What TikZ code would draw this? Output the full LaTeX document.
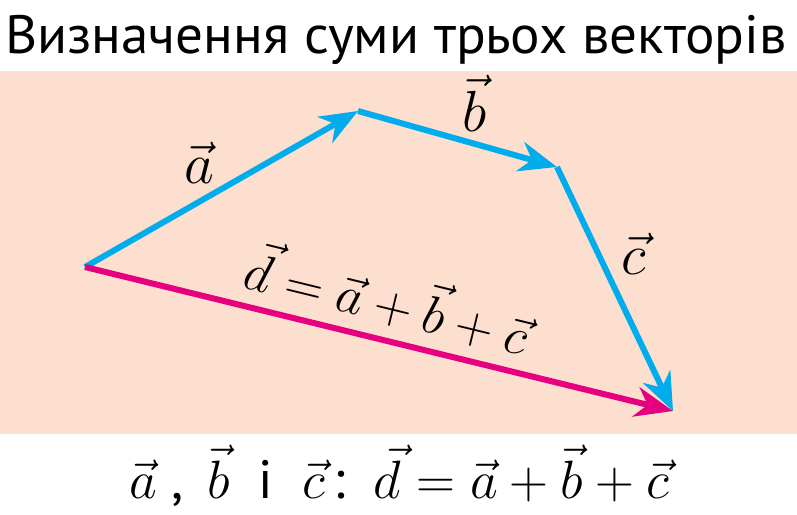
\RequirePackage{fix-cm}
\documentclass[tikz,border=0pt]{standalone}
\usepackage{fontspec}
\setmainfont{PT Sans}
\usetikzlibrary{arrows.meta}
\definecolor{vec-blue}{RGB}{0,172,236}
\definecolor{vec-magenta}{RGB}{228,0,126}
\definecolor{bg-peach}{RGB}{252,223,206}

\begin{document}
\begin{tikzpicture}[x=1pt,y=-1pt,
  vec/.style={line width=6pt,-{Stealth[length=38pt,width=30pt,inset=12pt]}},
  lbl/.style={font=\fontsize{58}{58}\selectfont, inner sep=0pt}]
\useasboundingbox (0,0) rectangle (797,514);
%Hintergrund:
\fill[bg-peach] (0,71) rectangle (797,434);
\node[anchor=base west, inner sep=0pt, xscale=1.02, font=\fontsize{54}{54}\selectfont] (title) at (5,53) {Визначення суми трьох векторів};
%Vektoren:
\coordinate (O) at (85,267);
\coordinate (A) at (358,111);
\coordinate (B) at (557,167);
\coordinate (C) at (673,411);
\draw[vec, vec-blue] (O) -- (A);
\draw[vec, vec-blue] (A) -- (B);
\draw[vec, vec-blue] (B) -- (C);
\draw[vec, vec-magenta] (O) -- (C);
\node[lbl] (lbl-a) at (199,163) {$\vec a$};
\node[lbl] (lbl-b) at (475,103) {$\vec b$};
\node[lbl] (lbl-c) at (634,254) {$\vec c$};
\node[lbl, font=\fontsize{53}{53}\selectfont, rotate=-13.7] (lbl-d) at (388,298) {$\vec d=\vec a+\vec b+\vec c$};
\node[lbl, font=\fontsize{54}{54}\selectfont, anchor=base] (sum) at (399,498) {$\vec a$\;, \,$\vec b$ \ і \ $\vec c$\,: \,$\vec d=\vec a+\vec b+\vec c$};
\end{tikzpicture}
\end{document}
